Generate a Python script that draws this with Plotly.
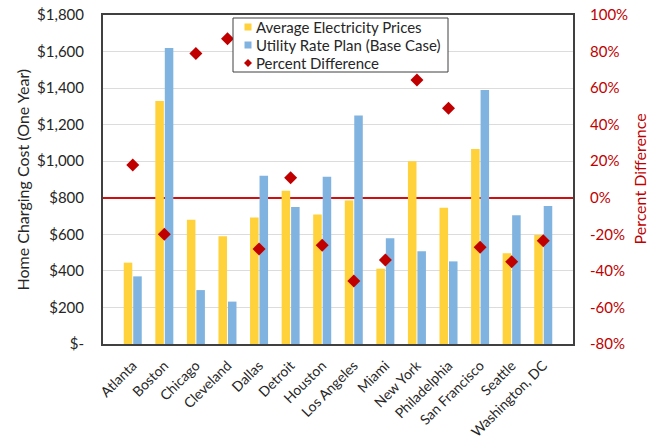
import plotly.graph_objects as go

cities = ["Atlanta", "Boston", "Chicago", "Cleveland", "Dallas", "Detroit", "Houston",
          "Los Angeles", "Miami", "New York", "Philadelphia", "San Francisco", "Seattle",
          "Washington, DC"]
avg_prices = [445, 1330, 680, 590, 692, 838, 708, 785, 412, 1000, 746, 1067, 496, 597]
utility_plan = [370, 1620, 295, 232, 920, 750, 915, 1250, 578, 508, 452, 1390, 705, 755]
pct_diff = [18, -20, 79, 87, -28, 11, -26, -45.5, -34, 64.5, 49, -27, -35, -23.5]

left_range = [0, 1800]
right_range = [-80, 100]
left_ticks = [0, 200, 400, 600, 800, 1000, 1200, 1400, 1600, 1800]
left_labels = ["$-", "$200", "$400", "$600", "$800", "$1,000", "$1,200", "$1,400", "$1,600", "$1,800"]
right_ticks = [-80, -60, -40, -20, 0, 20, 40, 60, 80, 100]
right_labels = ["-80%", "-60%", "-40%", "-20%", "0%", "20%", "40%", "60%", "80%", "100%"]

series_names = ["Average Electricity Prices", "Utility Rate Plan (Base Case)", "Percent Difference"]
left_title = "Home Charging Cost (One Year)"
right_title = "Percent Difference"

FONT = "Lato, 'Open Sans', sans-serif"
YELLOW = "#FFD13B"
BLUE = "#80B3E0"
RED = "#C00000"
LINE_RED = "#D01010"
DARK = "#262626"

W, H = 647, 441
ML, MR, MT, MB = 103, 74, 15, 97
PW, PH = W - ML - MR, H - MT - MB


def px(x):
    return (x - ML) / PW


def py(y):
    return (H - MB - y) / PH


fig = go.Figure()
fig.add_trace(go.Bar(x=cities, y=avg_prices, name=series_names[0],
                     marker=dict(color=YELLOW, line=dict(width=0))))
fig.add_trace(go.Bar(x=cities, y=utility_plan, name=series_names[1],
                     marker=dict(color=BLUE, line=dict(width=0))))
fig.add_trace(go.Scatter(x=cities, y=pct_diff, name=series_names[2], yaxis="y2",
                         mode="markers",
                         marker=dict(symbol="diamond", size=10, color=RED)))

# boxed legend drawn in paper space
shapes = []
box_l, box_r, box_t, box_b = 233, 448, 18, 72
shapes.append(dict(type="rect", xref="paper", yref="paper",
                   x0=px(box_l), x1=px(box_r), y0=py(box_b), y1=py(box_t),
                   fillcolor="white", line=dict(color="#404040", width=1), layer="above"))
row_y = [27, 45, 63]
sym_x = 248
for color, ry in zip([YELLOW, BLUE], row_y[:2]):
    shapes.append(dict(type="rect", xref="paper", yref="paper",
                       x0=px(sym_x - 3.5), x1=px(sym_x + 3.5),
                       y0=py(ry + 3.5), y1=py(ry - 3.5),
                       fillcolor=color, line=dict(width=0), layer="above"))
d = 4
ry = row_y[2]
shapes.append(dict(type="path", xref="paper", yref="paper",
                   path=(f"M {px(sym_x)},{py(ry - d)} L {px(sym_x + d)},{py(ry)} "
                         f"L {px(sym_x)},{py(ry + d)} L {px(sym_x - d)},{py(ry)} Z"),
                   fillcolor=RED, line=dict(width=0), layer="above"))

annotations = []
for name, ry in zip(series_names, row_y):
    annotations.append(dict(text=name, xref="paper", yref="paper",
                            x=px(254), y=py(ry), xanchor="left", yanchor="middle",
                            showarrow=False, font=dict(size=15, color=DARK)))

# axis titles
annotations.append(dict(text=left_title, xref="paper", yref="paper",
                        x=px(22), y=0.5, xanchor="center", yanchor="middle",
                        textangle=-90, showarrow=False,
                        font=dict(size=16, color=DARK)))
annotations.append(dict(text=right_title, xref="paper", yref="paper",
                        x=px(639), y=0.5, xanchor="center", yanchor="middle",
                        textangle=-90, showarrow=False,
                        font=dict(size=16, color=RED)))

fig.update_layout(
    width=W, height=H,
    margin=dict(l=ML, r=MR, t=MT, b=MB),
    paper_bgcolor="white", plot_bgcolor="white",
    font=dict(family=FONT, size=15, color=DARK),
    barmode="group", bargap=0.4, bargroupgap=0.1,
    showlegend=False,
    shapes=shapes, annotations=annotations,
    xaxis=dict(tickangle=-45, tickfont=dict(size=14, color=DARK),
               showline=True, linecolor="#404040", linewidth=2, mirror=True,
               ticks="outside", ticklen=6, tickcolor="rgba(0,0,0,0)",
               showgrid=False, automargin=False),
    yaxis=dict(range=left_range, tickvals=left_ticks, ticktext=left_labels,
               tickfont=dict(size=15, color=DARK),
               showgrid=True, gridcolor="#DCDCDC", gridwidth=1,
               showline=True, linecolor="#404040", linewidth=2, mirror=True,
               zeroline=False, ticks="outside", ticklen=14, tickcolor="rgba(0,0,0,0)",
               automargin=False),
    # the 0% zero line of the right axis sits behind the bars
    yaxis2=dict(range=right_range, tickvals=right_ticks, ticktext=right_labels,
                overlaying="y", side="right",
                tickfont=dict(size=15, color=RED),
                showgrid=False, zeroline=True, zerolinecolor=LINE_RED, zerolinewidth=2,
                automargin=False,
                ticks="outside", ticklen=13, tickcolor="rgba(0,0,0,0)"),
)

fig.write_html("out.html")
